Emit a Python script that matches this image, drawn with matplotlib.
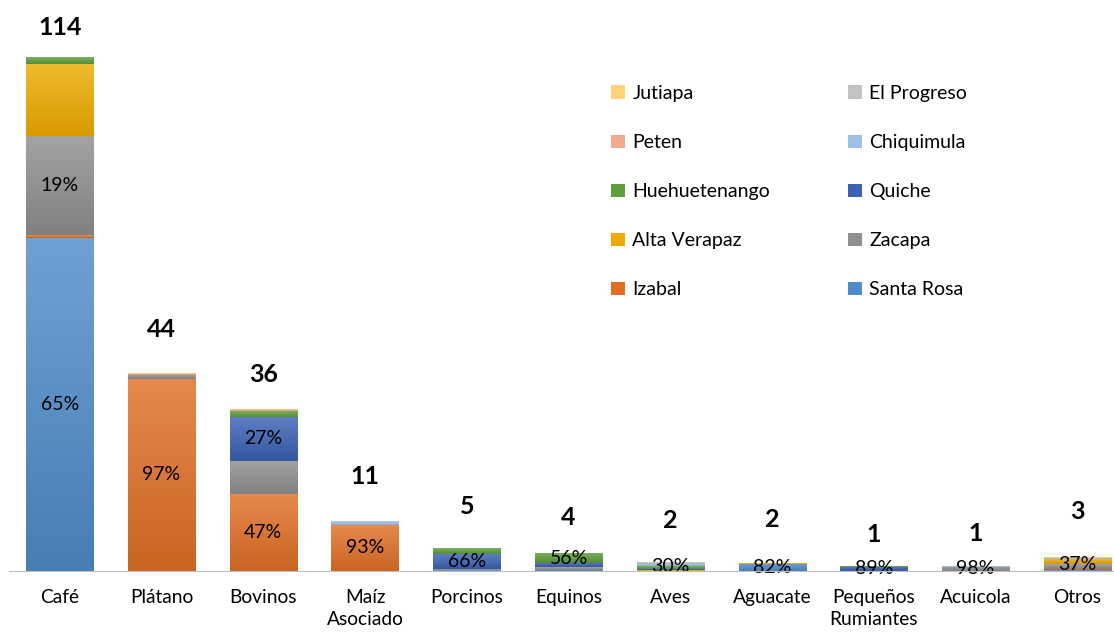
import numpy as np
import matplotlib
matplotlib.use("Agg")
import matplotlib.pyplot as plt
from matplotlib.colors import LinearSegmentedColormap, to_rgb
from matplotlib.patches import Patch

plt.rcParams['font.family'] = ['Lato', 'DejaVu Sans']

categorias = ["Café", "Plátano", "Bovinos", "Maíz\nAsociado", "Porcinos", "Equinos",
              "Aves", "Aguacate", "Pequeños\nRumiantes", "Acuicola", "Otros"]
totales = [114, 44, 36, 11, 5, 4, 2, 2, 1, 1, 3]

# valores por departamento (de abajo hacia arriba)
santa_rosa    = [74.0, 0.0, 0.0, 0.0, 0.2, 0.25, 0.0, 1.64, 0.0, 0.0, 0.2]
izabal        = [0.5, 42.6, 17.0, 10.2, 0.0, 0.0, 0.0, 0.0, 0.0, 0.0, 0.3]
zacapa        = [22.0, 0.9, 7.5, 0.0, 0.2, 0.6, 0.0, 0.0, 0.0, 0.98, 1.0]
alta_verapaz  = [16.0, 0.0, 0.0, 0.0, 0.0, 0.0, 0.2, 0.16, 0.0, 0.0, 1.11]
quiche        = [0.0, 0.0, 9.7, 0.0, 3.3, 0.9, 0.3, 0.0, 0.89, 0.0, 0.0]
huehuetenango = [1.5, 0.0, 1.3, 0.0, 1.3, 2.25, 0.6, 0.0, 0.11, 0.0, 0.15]
chiquimula    = [0.0, 0.0, 0.0, 0.8, 0.0, 0.0, 0.5, 0.0, 0.0, 0.02, 0.14]
peten         = [0.0, 0.3, 0.2, 0.0, 0.0, 0.0, 0.0, 0.0, 0.0, 0.0, 0.0]
el_progreso   = [0.0, 0.0, 0.0, 0.0, 0.0, 0.0, 0.4, 0.0, 0.0, 0.0, 0.0]
jutiapa       = [0.0, 0.2, 0.3, 0.0, 0.0, 0.0, 0.0, 0.0, 0.0, 0.0, 0.1]

series = [("Santa Rosa", santa_rosa, "#4f8cc9"),
          ("Izabal", izabal, "#e06f26"),
          ("Zacapa", zacapa, "#8f8f8f"),
          ("Alta Verapaz", alta_verapaz, "#eeac00"),
          ("Quiche", quiche, "#3a61b3"),
          ("Huehuetenango", huehuetenango, "#5e9e3c"),
          ("Chiquimula", chiquimula, "#9dc0e6"),
          ("Peten", peten, "#f2a98c"),
          ("El Progreso", el_progreso, "#c3c3c3"),
          ("Jutiapa", jutiapa, "#ffd27a")]

# etiquetas de porcentaje: (barra, serie, texto)
etiquetas_pct = [(0, "Santa Rosa", "65%"), (0, "Zacapa", "19%"), (1, "Izabal", "97%"),
                 (2, "Izabal", "47%"), (2, "Quiche", "27%"), (3, "Izabal", "93%"),
                 (4, "Quiche", "66%"), (5, "Huehuetenango", "56%"), (6, None, "30%"),
                 (7, "Santa Rosa", "82%"), (8, "Quiche", "89%"), (9, "Zacapa", "98%"),
                 (10, None, "37%")]
# altura de las etiquetas de total sobre cada barra
desfase_total = [6.7, 9.6, 7.6, 9.9, 9.2, 7.8, 9.2, 9.6, 7.0, 7.4, 10.3]

fig = plt.figure(figsize=(11.14, 6.33), dpi=100)
ax = fig.add_axes([0.008, 0.098, 0.992, 0.872])

x = np.arange(len(categorias))
ancho = 0.66
base = np.zeros(len(categorias))
centros = {}


def mezcla(c, o, f):
    c = np.array(to_rgb(c)); o = np.array(o)
    return tuple(c * (1 - f) + o * f)


for nombre, vals, color in series:
    vals = np.array(vals)
    barras = ax.bar(x, vals, ancho, bottom=base, color=color, linewidth=0)
    cmap = LinearSegmentedColormap.from_list(nombre, [mezcla(color, (0, 0, 0), 0.10),
                                                      mezcla(color, (1, 1, 1), 0.18)])
    grad = np.linspace(0, 1, 64).reshape(-1, 1)
    for b, v, b0 in zip(barras, vals, base):
        if v <= 0:
            continue
        im = ax.imshow(grad, cmap=cmap, origin="lower", aspect="auto",
                       extent=[b.get_x(), b.get_x() + b.get_width(), b0, b0 + v], zorder=2)
        im.set_clip_path(b)
    centros[nombre] = base + vals / 2
    base = base + vals

for i, serie, txt in etiquetas_pct:
    yy = centros[serie][i] if serie else base[i] / 2
    ax.text(x[i], yy, txt, ha="center", va="center", fontsize=14, zorder=5)

for i, t in enumerate(totales):
    ax.text(x[i], base[i] + desfase_total[i], str(t), ha="center", va="center",
            fontsize=18, fontweight="bold", zorder=5)

ax.set_xlim(-0.5, 10.36)
ax.set_ylim(0, 122.5)
ax.set_xticks(x)
ax.set_xticklabels(categorias, fontsize=13.8, linespacing=1.35)
ax.tick_params(axis="x", length=0, pad=13)
ax.set_yticks([])
for s in ["top", "right", "left"]:
    ax.spines[s].set_visible(False)
ax.spines["bottom"].set_color("#bfbfbf")
ax.spines["bottom"].set_zorder(6)

col = {n: c for n, _, c in series}
orden = ["Jutiapa", "Peten", "Huehuetenango", "Alta Verapaz", "Izabal",
         "El Progreso", "Chiquimula", "Quiche", "Zacapa", "Santa Rosa"]
handles = [Patch(facecolor=col[n], label=n) for n in orden]
ax.legend(handles=handles, ncol=2, loc="upper left", bbox_to_anchor=(0.529, 0.912),
          frameon=False, fontsize=14, labelspacing=1.65, handlelength=0.7,
          handleheight=0.7, handletextpad=0.4, columnspacing=4.0)

fig.savefig("out.png", dpi=100)
